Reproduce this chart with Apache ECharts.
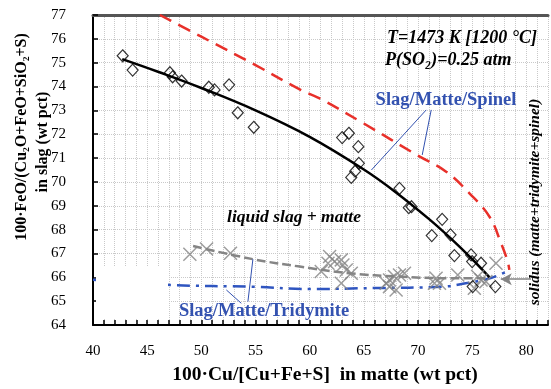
<!DOCTYPE html>
<html>
<head>
<meta charset="utf-8">
<script src="https://cdn.jsdelivr.net/npm/echarts@6/dist/echarts.min.js"></script>
<style>
html, body { margin: 0; padding: 0; background: #fff; }
#chart { width: 551px; height: 389px; }
</style>
</head>
<body>
<div id="chart"></div>
<script>
// measured points: slag/matte/spinel (diamonds)
const spinelPoints = [
  [42.74, 75.29], [43.66, 74.69], [47.10, 74.58], [47.35, 74.41], [48.18, 74.23],
  [50.69, 73.97], [51.22, 73.86], [52.56, 74.07], [53.36, 72.90], [54.84, 72.29],
  [63.00, 71.86], [63.62, 72.04], [64.49, 71.48], [64.54, 70.78], [64.20, 70.45],
  [63.84, 70.19], [68.29, 69.73], [69.15, 68.92], [69.40, 68.96], [72.23, 68.43],
  [71.27, 67.75], [73.00, 67.78], [73.36, 66.91], [74.90, 66.94], [75.00, 66.66],
  [75.82, 66.59], [75.05, 65.61], [77.14, 65.61]
]

// measured points: slag/matte/tridymite (crosses)
const tridymitePoints = [
  [48.94, 66.97], [50.48, 67.19], [52.69, 67.01],
  [61.84, 66.87], [61.69, 66.59], [62.30, 66.66], [62.92, 66.73], [63.07, 66.52],
  [63.38, 66.31], [63.84, 66.17], [61.07, 66.24], [62.92, 65.75],
  [67.37, 65.89], [67.83, 66.03], [68.29, 66.10], [68.75, 66.17], [67.37, 65.61],
  [67.98, 65.47], [67.06, 65.75],
  [71.67, 65.96], [71.98, 65.75], [71.52, 65.75], [73.67, 66.10], [75.51, 66.03],
  [75.82, 65.89], [75.20, 65.54], [76.27, 65.82], [77.20, 66.59]
]

// fitted / calculated curves
const spinelFit = [
  [42.7, 75.15], [46, 74.62], [50, 73.94], [55, 73.0], [60, 71.89], [65, 70.52],
  [68, 69.55], [71, 68.45], [73, 67.64], [75, 66.76], [76.6, 66.0]
]
const spinelCalc = [
  [46.17, 77], [50, 76.09], [55, 74.9], [59.08, 73.88], [60.92, 73.5], [65, 72.45],
  [70, 71.1], [72.6, 70.43], [74.75, 69.52], [76.6, 68.54], [77.67, 67.43],
  [78.28, 66.66], [78.43, 66.31]
]
const tridymiteFit = [
  [49.24, 67.31], [54.77, 66.76], [59.08, 66.45], [63.69, 66.17], [68.3, 66.03],
  [72.9, 65.96], [76.6, 65.96]
]
const tridymiteCalc = [
  [40, 65.9], [47.1, 65.68], [55, 65.6], [60, 65.51], [66, 65.55], [72.3, 65.61],
  [74.4, 65.75], [76.3, 65.92], [77.5, 66.1], [78.43, 66.31]
]

// label leader lines and the solidus arrow (data coords)
const spinelLeaders = [
  [[70.76, 73.02], [65.70, 70.50]],
  [[71.22, 73.02], [70.39, 71.13]]
]
const tridymiteLeaders = [
  [[52.31, 65.47], [53.69, 64.91]],
  [[54.30, 64.98], [54.76, 66.76]]
]
const solidusArrow = [[80.43, 65.92], [77.64, 65.92]]

// axis
const xMin = 40, xMax = 82
const yMin = 64, yMax = 77

const serif = '"Liberation Serif", "DejaVu Serif", serif'
const blue = '#3352b0'
const gray = '#858585'

const chart = echarts.init(document.getElementById('chart'))

const leaderData = (pairs) => pairs.map(p => [{ coord: p[0] }, { coord: p[1] }])

const option = {
  animation: false,
  backgroundColor: '#fff',
  grid: { left: 93, right: 2, top: 15, bottom: 64 },
  xAxis: [
    {
      type: 'value',
      min: xMin,
      max: xMax,
      interval: 1,
      axisLine: { lineStyle: { color: '#000', width: 2 } },
      axisTick: { inside: true, length: 5, lineStyle: { color: '#000', width: 1.5 } },
      axisLabel: {
        margin: 19,
        fontSize: 15,
        fontFamily: serif,
        color: '#000',
        formatter: v => (v % 5 === 0 && v <= 80 ? String(v) : '')
      },
      splitLine: { show: true, lineStyle: { color: '#c9c9c9', type: 'dotted', width: 1 } }
    },
    {
      type: 'value',
      position: 'top',
      min: xMin,
      max: xMax,
      axisLine: { show: true, lineStyle: { color: '#555', width: 3 } },
      axisTick: { show: false },
      axisLabel: { show: false },
      splitLine: { show: false }
    }
  ],
  yAxis: {
    type: 'value',
    min: yMin,
    max: yMax,
    interval: 1,
    axisLine: { show: true, lineStyle: { color: '#000', width: 2 } },
    axisTick: { show: true, inside: true, length: 5, lineStyle: { color: '#000', width: 1.5 } },
    axisLabel: { margin: 27, fontSize: 15, fontFamily: serif, color: '#000' },
    splitLine: { show: true, lineStyle: { color: '#c9c9c9', type: 'dotted', width: 1 } }
  },
  series: [
    {
      name: 'spinel calc',
      type: 'line',
      data: spinelCalc,
      smooth: 0.4,
      symbol: 'none',
      lineStyle: { color: '#e8302a', width: 2.5, type: [13, 8] },
      markLine: {
        silent: true,
        symbol: ['none', 'none'],
        label: { show: false },
        lineStyle: { color: blue, width: 1, type: 'solid' },
        data: leaderData(spinelLeaders)
      }
    },
    {
      name: 'tridymite calc',
      type: 'line',
      data: tridymiteCalc,
      smooth: 0.4,
      symbol: 'none',
      lineStyle: { color: '#2f55c0', width: 2.5, type: [13, 6, 3, 6] },
      markLine: {
        silent: true,
        symbol: ['none', 'none'],
        label: { show: false },
        lineStyle: { color: blue, width: 1, type: 'solid' },
        data: leaderData(tridymiteLeaders)
      }
    },
    {
      name: 'tridymite fit',
      type: 'line',
      data: tridymiteFit,
      smooth: 0.4,
      symbol: 'none',
      lineStyle: { color: gray, width: 2.5, type: [9, 4] },
      markLine: {
        silent: true,
        symbol: ['none', 'arrow'],
        symbolSize: [9, 11],
        label: { show: false },
        lineStyle: { color: gray, width: 1.5, type: 'solid' },
        data: [[{ coord: solidusArrow[0] }, { coord: solidusArrow[1] }]]
      }
    },
    {
      name: 'spinel fit',
      type: 'line',
      data: spinelFit,
      smooth: 0.4,
      symbol: 'none',
      lineStyle: { color: '#000', width: 2.5 }
    },
    {
      name: 'tridymite',
      type: 'scatter',
      data: tridymitePoints,
      symbol: 'path://M0,0L10,10M10,0L0,10',
      symbolSize: 13,
      itemStyle: { color: 'transparent', borderColor: gray, borderWidth: 1.5 },
      z: 4
    },
    {
      name: 'spinel',
      type: 'scatter',
      data: spinelPoints,
      symbol: 'diamond',
      symbolSize: [11, 12],
      itemStyle: { color: 'rgba(255,255,255,0)', borderColor: '#000', borderWidth: 1.2 },
      z: 5
    }
  ],
  graphic: [
    {
      type: 'rect',
      z: 100,
      shape: { x: 96, y: 267, width: 72, height: 52 },
      style: { fill: '#fff' }
    },
    {
      type: 'text', x: 22, y: 137, rotation: Math.PI / 2, z: 110,
      style: {
        text: '100·FeO/(Cu₂O+FeO+SiO₂+S)',
        align: 'center', verticalAlign: 'middle',
        fontFamily: serif, fontWeight: 'bold', fontSize: 16, fill: '#000'
      }
    },
    {
      type: 'text', x: 43, y: 142, rotation: Math.PI / 2, z: 110,
      style: {
        text: 'in slag (wt pct)',
        align: 'center', verticalAlign: 'middle',
        fontFamily: serif, fontWeight: 'bold', fontSize: 16, fill: '#000'
      }
    },
    {
      type: 'text', x: 325, y: 375, z: 110,
      style: {
        text: '100·Cu/[Cu+Fe+S]  in matte (wt pct)',
        align: 'center', verticalAlign: 'middle',
        fontFamily: serif, fontWeight: 'bold', fontSize: 19.5, fill: '#000'
      }
    },
    {
      type: 'text', x: 387, y: 38, z: 110,
      style: {
        text: 'T=1473 K [1200 °C]',
        align: 'left', verticalAlign: 'middle',
        fontFamily: serif, fontWeight: 'bold', fontStyle: 'italic', fontSize: 18, fill: '#000'
      }
    },
    {
      type: 'text', x: 385, y: 60, z: 110,
      style: {
        text: 'P(SO₂)=0.25 atm',
        align: 'left', verticalAlign: 'middle',
        fontFamily: serif, fontWeight: 'bold', fontStyle: 'italic', fontSize: 18, fill: '#000'
      }
    },
    {
      type: 'text', x: 446, y: 100, z: 110,
      style: {
        text: 'Slag/Matte/Spinel',
        align: 'center', verticalAlign: 'middle',
        fontFamily: serif, fontWeight: 'bold', fontSize: 18.5, fill: blue
      }
    },
    {
      type: 'text', x: 264, y: 311, z: 110,
      style: {
        text: 'Slag/Matte/Tridymite',
        align: 'center', verticalAlign: 'middle',
        fontFamily: serif, fontWeight: 'bold', fontSize: 18.5, fill: blue
      }
    },
    {
      type: 'text', x: 294, y: 217, z: 110,
      style: {
        text: 'liquid slag + matte',
        align: 'center', verticalAlign: 'middle',
        fontFamily: serif, fontWeight: 'bold', fontStyle: 'italic', fontSize: 17.5, fill: '#000'
      }
    },
    {
      type: 'text', x: 535, y: 202, rotation: Math.PI / 2, z: 110,
      style: {
        text: 'solidus (matte+tridymite+spinel)',
        align: 'center', verticalAlign: 'middle',
        fontFamily: serif, fontWeight: 'bold', fontStyle: 'italic', fontSize: 15.5, fill: '#000'
      }
    }
  ]
}

chart.setOption(option)
window.addEventListener('resize', () => {
  chart.resize()
})
</script>
</body>
</html>
